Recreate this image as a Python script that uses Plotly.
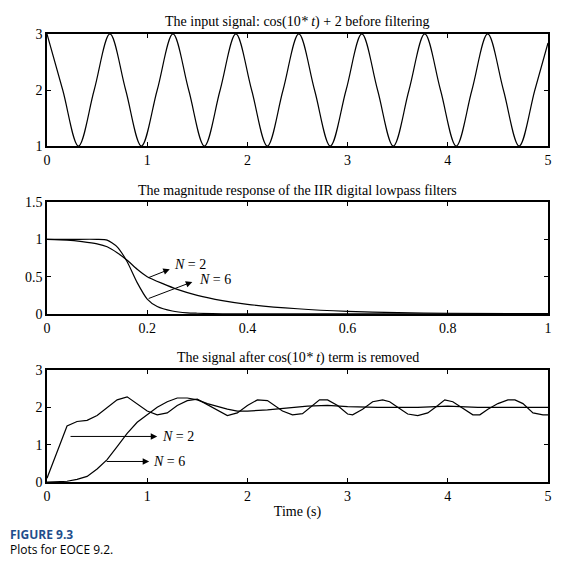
import plotly.graph_objects as go
from plotly.subplots import make_subplots

# top: input signal sampled at quarter periods (spline-smoothed)
t_in = [0, 0.157, 0.314, 0.471, 0.628, 0.785, 0.942, 1.1, 1.257, 1.414, 1.571, 1.728, 1.885, 2.042, 2.199, 2.356,
        2.513, 2.67, 2.827, 2.985, 3.142, 3.299, 3.456, 3.613, 3.77, 3.927, 4.084, 4.241, 4.398, 4.555, 4.712, 4.869, 5.0]
y_in = [3, 2, 1, 2, 3, 2, 1, 2, 3, 2, 1, 2, 3, 2, 1, 2, 3, 2, 1, 2, 3, 2, 1, 2, 3, 2, 1, 2, 3, 2, 1, 2, 2.84]

f6 = [0, 0.05, 0.1, 0.12, 0.14, 0.16, 0.18, 0.2, 0.22, 0.25, 0.28, 0.3, 0.35, 1.0]
m6 = [1, 1, 1, 0.99, 0.9, 0.7, 0.42, 0.2, 0.1, 0.04, 0.015, 0.01, 0.003, 0.0]
f2 = [0, 0.04, 0.07, 0.1, 0.12, 0.14, 0.16, 0.18, 0.2, 0.23, 0.26, 0.3, 0.35, 0.4, 0.5, 0.6, 0.7, 0.8, 1.0]
m2 = [1, 0.99, 0.97, 0.94, 0.9, 0.82, 0.72, 0.6, 0.5, 0.41, 0.33, 0.25, 0.18, 0.13, 0.07, 0.035, 0.018, 0.01, 0.004]

t_out2 = [0, 0.1, 0.2, 0.3, 0.4, 0.5, 0.6, 0.7, 0.8, 0.9, 1.0, 1.1, 1.2, 1.3, 1.4, 1.5, 1.65, 1.8, 1.9, 2.0, 2.1, 2.2,
          2.35, 2.45, 2.55, 2.65, 2.72, 2.8, 2.9, 3.0, 3.05, 3.15, 3.25, 3.35, 3.42, 3.5, 3.6, 3.7, 3.8, 3.9, 3.97,
          4.05, 4.15, 4.25, 4.32, 4.4, 4.5, 4.6, 4.67, 4.75, 4.85, 4.95, 5.0]
y_out2 = [0.1, 0.8, 1.5, 1.62, 1.65, 1.78, 2.0, 2.2, 2.28, 2.1, 1.9, 1.8, 1.85, 2.05, 2.18, 2.22, 2.0, 1.78, 1.85, 2.05, 2.2, 2.18,
          1.9, 1.8, 1.83, 2.05, 2.2, 2.2, 2.05, 1.82, 1.8, 1.95, 2.15, 2.2, 2.15, 2.0, 1.82, 1.78, 1.85, 2.05, 2.2,
          2.15, 1.97, 1.8, 1.8, 1.95, 2.1, 2.2, 2.2, 2.1, 1.85, 1.8, 1.8]
t_out6 = [0, 0.2, 0.3, 0.4, 0.5, 0.6, 0.7, 0.8, 0.9, 1.0, 1.1, 1.2, 1.3, 1.4, 1.5, 1.6, 1.7, 1.8, 1.9, 2.0, 2.2,
          2.4, 2.6, 2.8, 3.0, 3.3, 3.7, 4.0, 4.3, 5.0]
y_out6 = [0, 0.02, 0.07, 0.15, 0.35, 0.6, 0.95, 1.3, 1.6, 1.8, 2.0, 2.15, 2.25, 2.25, 2.2, 2.1, 2.02, 1.95, 1.9, 1.9, 1.93,
          1.98, 2.03, 2.05, 2.02, 2.0, 2.0, 2.03, 2.0, 2.0]

fig = make_subplots(rows=3, cols=1, vertical_spacing=0.125, subplot_titles=(
    "The input signal: cos(10<i>*</i> <i>t</i>) + 2 before filtering",
    "The magnitude response of the IIR digital lowpass filters",
    "The signal after cos(10<i>*</i> <i>t</i>) term is removed"))
ln = dict(color="black", width=1.2)
fig.add_trace(go.Scatter(x=t_in, y=y_in, mode="lines", line=dict(color="black", width=1.2, shape="spline", smoothing=1.0)), 1, 1)
fig.add_trace(go.Scatter(x=f6, y=m6, mode="lines", line=dict(color="black", width=1.2, shape="spline", smoothing=0.6)), 2, 1)
fig.add_trace(go.Scatter(x=f2, y=m2, mode="lines", line=dict(color="black", width=1.2, shape="spline", smoothing=0.6)), 2, 1)
fig.add_trace(go.Scatter(x=t_out2, y=y_out2, mode="lines", line=ln), 3, 1)
fig.add_trace(go.Scatter(x=t_out6, y=y_out6, mode="lines", line=ln), 3, 1)

ax = dict(showgrid=False, zeroline=False, showline=True, linecolor="black", linewidth=1.5, mirror="ticks",
          ticks="inside", ticklen=4, tickcolor="black", tickfont=dict(size=14))
fig.update_xaxes(**ax)
fig.update_yaxes(**ax)
fig.update_xaxes(range=[0, 5], dtick=1, row=1, col=1)
fig.update_yaxes(range=[1, 3], dtick=1, row=1, col=1)
fig.update_xaxes(range=[0, 1], dtick=0.2, row=2, col=1)
fig.update_yaxes(range=[0, 1.5], dtick=0.5, row=2, col=1)
fig.update_xaxes(range=[0, 5], dtick=1, title=dict(text="Time (s)", font=dict(size=14), standoff=4), row=3, col=1)
fig.update_yaxes(range=[0, 3], dtick=1, row=3, col=1)

for a in fig.layout.annotations:
    a.font = dict(size=14, color="black")
    a.yshift = 2

def arrow(xr, yr, x0, y0, x1, y1, text, tx, ty):
    fig.add_annotation(x=x1, y=y1, ax=x0, ay=y0, xref=xr, yref=yr, axref=xr, ayref=yr, text="",
                       showarrow=True, arrowhead=2, arrowsize=1.3, arrowwidth=1, arrowcolor="black")
    fig.add_annotation(x=tx, y=ty, xref=xr, yref=yr, text=text, showarrow=False, xanchor="left",
                       font=dict(size=14, color="black"))

arrow("x2", "y2", 0.2, 0.48, 0.245, 0.6, "<i>N</i> = 2", 0.25, 0.66)
arrow("x2", "y2", 0.2, 0.2, 0.29, 0.43, "<i>N</i> = 6", 0.3, 0.46)
arrow("x3", "y3", 0.22, 1.22, 1.1, 1.22, "<i>N</i> = 2", 1.13, 1.22)
arrow("x3", "y3", 0.58, 0.55, 1.02, 0.55, "<i>N</i> = 6", 1.04, 0.55)

fig.add_annotation(x=-0.078, y=-0.14, xref="paper", yref="paper", xanchor="left", showarrow=False,
                   text="<b>FIGURE 9.3</b>", font=dict(family="Open Sans", size=12, color="#1f4e8c"))
fig.add_annotation(x=-0.078, y=-0.174, xref="paper", yref="paper", xanchor="left", showarrow=False,
                   text="Plots for EOCE 9.2.", font=dict(family="Open Sans", size=12, color="black"))

fig.update_layout(width=576, height=571, showlegend=False, plot_bgcolor="white", paper_bgcolor="white",
                  font=dict(family="Liberation Serif", color="black"),
                  margin=dict(l=39, r=36, t=26, b=97))
fig.write_html("out.html")
